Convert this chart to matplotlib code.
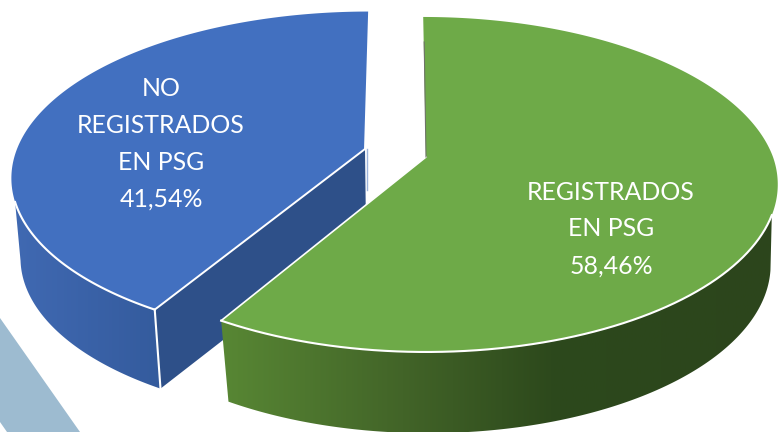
import numpy as np
import matplotlib
matplotlib.use("Agg")
import matplotlib.pyplot as plt
from matplotlib.patches import Polygon
from matplotlib.colors import LinearSegmentedColormap

labels = ["REGISTRADOS\nEN PSG\n58,46%", "NO\nREGISTRADOS\nEN PSG\n41,54%"]
values = [58.46, 41.54]

W, H = 779, 432
fig = plt.figure(figsize=(W / 100, H / 100), dpi=100)
ax = fig.add_axes([0, 0, 1, 1])
ax.set_xlim(0, W)
ax.set_ylim(H, 0)
ax.axis("off")

K = 0.164


def project(theta, apex, a, b, shear_up, shear_down):
    """Clockwise-from-top pie angle to picture coordinates, with perspective."""
    u, v = np.sin(theta), np.cos(theta)
    w = 1 + K * v
    dy = -b * v / w
    lean = np.where(dy < 0, shear_up, shear_down) * dy
    return apex[0] + a * u / w - lean, apex[1] + dy


def arc(t0, t1, apex, a, b, shear_up, shear_down, n=400):
    x, y = project(np.linspace(t0, t1, n), apex, a, b, shear_up, shear_down)
    return np.column_stack([x, y])


def gradient(poly, stops, zorder):
    cmap = LinearSegmentedColormap.from_list("g", stops)
    patch = Polygon(poly, closed=True, fc="none", ec="none", zorder=zorder)
    ax.add_patch(patch)
    x0, x1 = poly[:, 0].min(), poly[:, 0].max()
    im = ax.imshow(np.linspace(0, 1, 256)[None, :], cmap=cmap, aspect="auto",
                   extent=(x0, x1, H, 0), zorder=zorder)
    im.set_clip_path(patch)


ax.add_patch(Polygon([(0, 318), (80, 432), (7, 432), (0, 422)], closed=True,
                     fc="#9dbbd0", ec="none", zorder=0))

angles = np.cumsum([0] + values) / 100 * 2 * np.pi
green_span = (angles[0], angles[1])
blue_span = (angles[1], angles[2])

# Blue slice (behind)
bA, ba, bb, bs = (365, 149), 348, 160, 0.03
bA2, ba2, bb2 = (366, 229), 340, 159
top = arc(*blue_span, bA, ba, bb, bs, bs)
low = arc(*blue_span, bA2, ba2, bb2, bs, bs)
face = np.array([bA, top[0], low[0], bA2])
ax.add_patch(Polygon(face, closed=True, fc="#2e5089", ec="none", zorder=1))
side = np.vstack([top[top[:, 1] >= 202], low[low[:, 1] >= 260][::-1]])
gradient(side, ["#4069b2", "#345b9d"], 2)
ax.add_patch(Polygon(np.vstack([[bA], top]), closed=True, fc="#4270c0",
                     ec="none", zorder=3))
front = top[top[:, 1] > 202]
ax.plot(front[:, 0], front[:, 1], color="white", lw=1.5, zorder=4)
ax.plot([top[0, 0], low[0, 0]], [top[0, 1], low[0, 1]], color="white", lw=1.5, zorder=4)
ax.plot([top[0, 0], bA[0], top[-1, 0]], [top[0, 1], bA[1], top[-1, 1]],
        color="white", lw=1.4, zorder=4)
ax.plot([bA[0] + 2, bA[0] + 2], [bA[1], 190], color="#9db4dc", lw=1, zorder=4)

# Green slice (in front)
gA, ga, gb, gsu, gsd = (426, 157), 347, 163, -0.02, 0.0
gA2, ga2, gb2 = (428, 237), 338, 164
top = arc(*green_span, gA, ga, gb, gsu, gsd)
low = arc(*green_span, gA2, ga2, gb2, gsu, gsd)
side = np.vstack([top[top[:, 1] >= 215], low[low[:, 1] >= 270][::-1]])
gradient(side, [(0, "#588734"), (0.33, "#426428"), (0.6, "#2d491c"), (1, "#2c451c")], 5)
ax.add_patch(Polygon(np.vstack([[gA], top]), closed=True, fc="#6eaa48",
                     ec="none", zorder=6))
front = top[top[:, 1] > 215]
ax.plot(front[:, 0], front[:, 1], color="white", lw=1.5, zorder=7)
ax.plot([gA[0], top[-1, 0]], [gA[1], top[-1, 1]], color="white", lw=1.2, zorder=7)
ax.plot([top[0, 0] + 1, gA[0]], [top[0, 1] + 25, gA[1]], color="#6e7468", lw=0.8, zorder=7)

font = dict(color="white", fontsize=17.9, family="Lato", ha="center", va="center",
            zorder=8, linespacing=1.73)
ax.text(611, 229, labels[0], **font)
ax.text(161, 144, labels[1], **font)

fig.savefig("out.png", dpi=100)
